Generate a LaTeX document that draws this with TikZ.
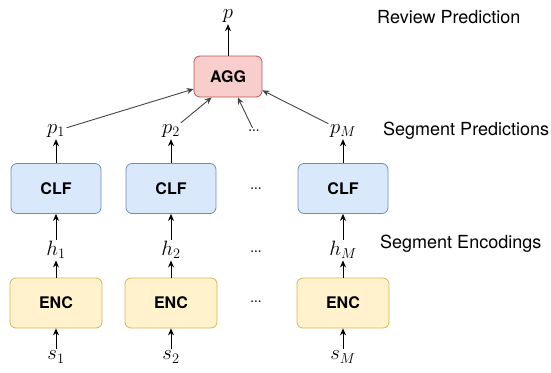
\documentclass[tikz,border=0pt]{standalone}
\usepackage{fontspec}
\setsansfont{TeX Gyre Heros}
\usetikzlibrary{arrows.meta}
\definecolor{aggfill}{HTML}{F8CECC}\definecolor{aggdraw}{HTML}{B85450}
\definecolor{clffill}{HTML}{DAE8FC}\definecolor{clfdraw}{HTML}{6C8EBF}
\definecolor{encfill}{HTML}{FFF2CC}\definecolor{encdraw}{HTML}{D6B656}
\definecolor{linegray}{HTML}{444444}
\begin{document}
\begin{tikzpicture}[x=1pt,y=-1pt,
  box/.style={draw, rounded corners=6pt, minimum width=90pt, minimum height=50pt,
    font=\sffamily\bfseries\fontsize{16}{19}\selectfont, line width=0.8pt},
  clf/.style={box, fill=clffill, draw=clfdraw},
  enc/.style={box, fill=encfill, draw=encdraw, minimum width=92pt},
  agg/.style={box, fill=aggfill, draw=aggdraw, minimum width=68pt, minimum height=41pt},
  lab/.style={font=\fontsize{20}{24}\selectfont, inner sep=1.5pt},
  dots/.style={font=\bfseries\fontsize{12}{13}\selectfont, inner sep=2pt},
  arr/.style={-{Stealth[length=7pt,width=6pt]}, line width=0.9pt},
  darr/.style={arr, draw=linegray},
  side/.style={font=\sffamily\fontsize{18}{21}\selectfont, anchor=west, inner sep=0pt}]
\useasboundingbox (0,0) rectangle (551,372);
% top
\node[lab] (p) at (228,16) {$p$};
\node[agg] (agg) at (228,76.5) {AGG};
% prediction labels
\node[lab] (p1) at (56,131) {$p_1$};
\node[lab] (p2) at (171,131) {$p_2$};
\node[dots] (pd) at (254,131) {...};
\node[lab] (pM) at (343,131) {$p_M$};
% classifiers
\node[clf] (c1) at (56,188.5) {CLF};
\node[clf] (c2) at (171,188.5) {CLF};
\node[dots] (cd) at (256,189) {...};
\node[clf] (c3) at (343,188.5) {CLF};
% encodings
\node[lab] (h1) at (56,250) {$h_1$};
\node[lab] (h2) at (171,250) {$h_2$};
\node[dots] (hd) at (256,252) {...};
\node[lab] (hM) at (343,250) {$h_M$};
% encoders
\node[enc] (e1) at (56,303) {ENC};
\node[enc] (e2) at (171,303) {ENC};
\node[dots] (ed) at (256,302) {...};
\node[enc] (e3) at (343,303) {ENC};
% segments
\node[lab] (s1) at (56,357) {$s_1$};
\node[lab] (s2) at (171,357) {$s_2$};
\node[lab] (sM) at (343,357) {$s_M$};
% side texts
\node[side] (t1) at (377,17) {Review Prediction};
\node[side] (t2) at (383,131) {Segment Predictions};
\node[side] (t3) at (380,244) {Segment Encodings};
% arrows
\draw[arr] (agg) -- (p);
\draw[darr] (p1) -- (agg.200);
\draw[darr] (p2) -- (agg.232);
\draw[darr] (pd) -- (agg.295);
\draw[darr] (pM) -- (agg.338);
\foreach \i/\j in {c1/p1,c2/p2,c3/pM,h1/c1,h2/c2,hM/c3,e1/h1,e2/h2,e3/hM,s1/e1,s2/e2,sM/e3}
  \draw[arr] (\i) -- (\j);
\end{tikzpicture}
\end{document}
